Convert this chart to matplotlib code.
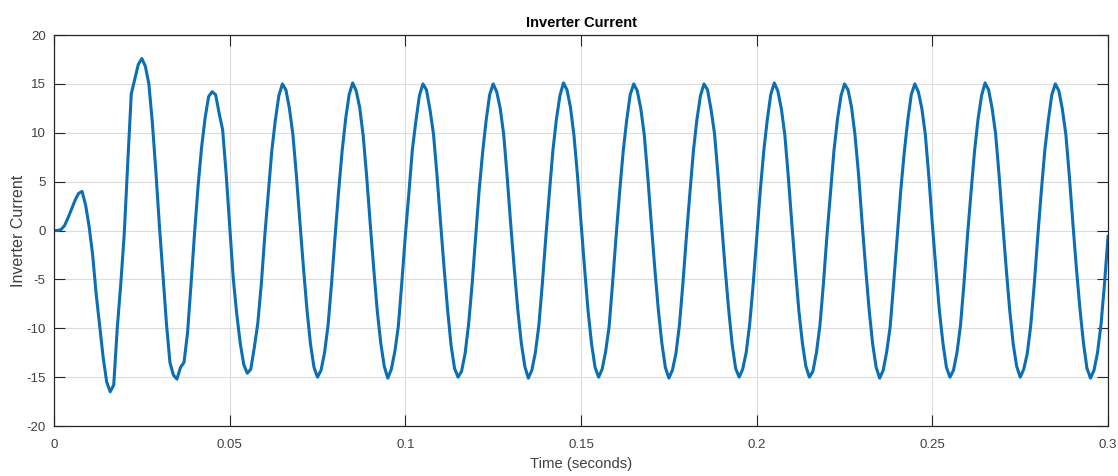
import numpy as np
import matplotlib
matplotlib.use("Agg")
import matplotlib.pyplot as plt

# sample clock: 1 ms steps from 0 to 0.3 s
time_s = np.arange(301) * 0.001

# inverter current (one value per ms)
current = [
    0.0, 0.0, 0.1, 0.5, 1.3, 2.2, 3.1, 3.8, 4.0, 2.6,
    0.4, -2.5, -6.5, -9.8, -13.0, -15.5, -16.5, -15.8, -10.0, -5.5,
    -0.3, 7.0, 14.0, 15.5, 17.0, 17.6, 16.8, 15.0, 11.0, 6.0,
    0.5, -4.5, -9.5, -13.5, -14.8, -15.2, -14.0, -13.5, -10.5, -5.5,
    -0.3, 4.5, 8.5, 11.5, 13.7, 14.2, 13.9, 12.0, 10.3, 5.8,
    0.5, -4.8, -8.5, -11.5, -13.7, -14.6, -14.2, -12.0, -9.5, -5.5,
    -0.5, 3.9, 8.2, 11.3, 13.8, 15.0, 14.4, 12.5, 9.8, 5.6,
    0.8, -3.8, -8.1, -11.6, -14.0, -15.0, -14.3, -12.5, -9.7, -5.4,
    -0.6, 4.0, 8.1, 11.4, 13.9, 15.1, 14.3, 12.6, 9.7, 5.5,
    0.7, -3.9, -8.2, -11.5, -13.9, -15.1, -14.2, -12.4, -9.8, -5.3,
    -0.5, 3.8, 8.3, 11.2, 13.8, 15.0, 14.4, 12.4, 9.9, 5.7,
    0.9, -3.7, -8.0, -11.7, -14.1, -15.0, -14.4, -12.6, -9.6, -5.5,
    -0.7, 4.1, 8.0, 11.3, 13.9, 15.0, 14.2, 12.5, 9.8, 5.4,
    0.6, -3.9, -8.1, -11.5, -13.9, -15.1, -14.3, -12.5, -9.7, -5.4,
    -0.6, 3.9, 8.2, 11.4, 13.8, 15.1, 14.4, 12.6, 9.7, 5.6,
    0.8, -3.8, -8.2, -11.6, -14.0, -15.0, -14.2, -12.4, -9.8, -5.3,
    -0.5, 4.0, 8.1, 11.3, 13.9, 15.0, 14.3, 12.5, 9.8, 5.5,
    0.7, -3.9, -8.1, -11.5, -14.0, -15.1, -14.3, -12.6, -9.7, -5.4,
    -0.6, 3.9, 8.2, 11.4, 13.8, 15.0, 14.4, 12.4, 9.9, 5.6,
    0.8, -3.8, -8.0, -11.6, -14.1, -15.0, -14.2, -12.5, -9.6, -5.5,
    -0.7, 4.0, 8.1, 11.3, 13.9, 15.1, 14.3, 12.5, 9.8, 5.5,
    0.7, -3.9, -8.2, -11.5, -13.9, -15.0, -14.4, -12.5, -9.7, -5.4,
    -0.5, 3.8, 8.2, 11.4, 13.8, 15.0, 14.4, 12.6, 9.7, 5.7,
    0.8, -3.8, -8.1, -11.6, -14.0, -15.1, -14.3, -12.4, -9.8, -5.3,
    -0.6, 4.1, 8.0, 11.3, 13.9, 15.0, 14.2, 12.5, 9.8, 5.5,
    0.6, -3.9, -8.2, -11.5, -14.0, -15.0, -14.3, -12.5, -9.7, -5.4,
    -0.5, 3.9, 8.1, 11.4, 13.8, 15.1, 14.4, 12.5, 9.9, 5.6,
    0.8, -3.8, -8.1, -11.6, -13.9, -15.0, -14.2, -12.6, -9.7, -5.5,
    -0.6, 4.0, 8.2, 11.3, 13.9, 15.0, 14.3, 12.4, 9.8, 5.5,
    0.7, -3.9, -8.0, -11.5, -14.1, -15.1, -14.3, -12.5, -9.6, -5.4,
    -0.6,
]

x_ticks = [0, 0.05, 0.1, 0.15, 0.2, 0.25, 0.3]
x_tick_labels = ["0", "0.05", "0.1", "0.15", "0.2", "0.25", "0.3"]
y_ticks = [-20, -15, -10, -5, 0, 5, 10, 15, 20]

plt.rcParams['font.family'] = ['Liberation Sans', 'DejaVu Sans']
plt.rcParams['axes.unicode_minus'] = False

fig = plt.figure(figsize=(11.18, 4.76), dpi=100)
ax = fig.add_axes([0.0483, 0.105, 0.9428, 0.8214])

ax.plot(time_s, current, color='#0a6fb5', linewidth=2.2)

ax.set_xlim(0, 0.3)
ax.set_ylim(-20, 20)
ax.set_xticks(x_ticks)
ax.set_xticklabels(x_tick_labels)
ax.set_yticks(y_ticks)

ax.grid(True, color='#dcdcdc', linewidth=0.8)
ax.set_axisbelow(True)
ax.tick_params(direction='in', length=8, width=0.8, top=True, right=True,
               labelsize=9.5, labelcolor='#404040', color='#262626')
ax.tick_params(axis='x', pad=9)
ax.tick_params(axis='y', pad=6)
for sp in ax.spines.values():
    sp.set_color('#262626')
    sp.set_linewidth(0.9)

ax.set_title('Inverter Current', fontsize=10.5, fontweight='bold', pad=6)
ax.set_xlabel('Time (seconds)', fontsize=10.7, color='#404040', labelpad=5)
ax.set_ylabel('Inverter Current', fontsize=11.5, color='#404040', labelpad=0)

fig.savefig('out.png', dpi=100)
